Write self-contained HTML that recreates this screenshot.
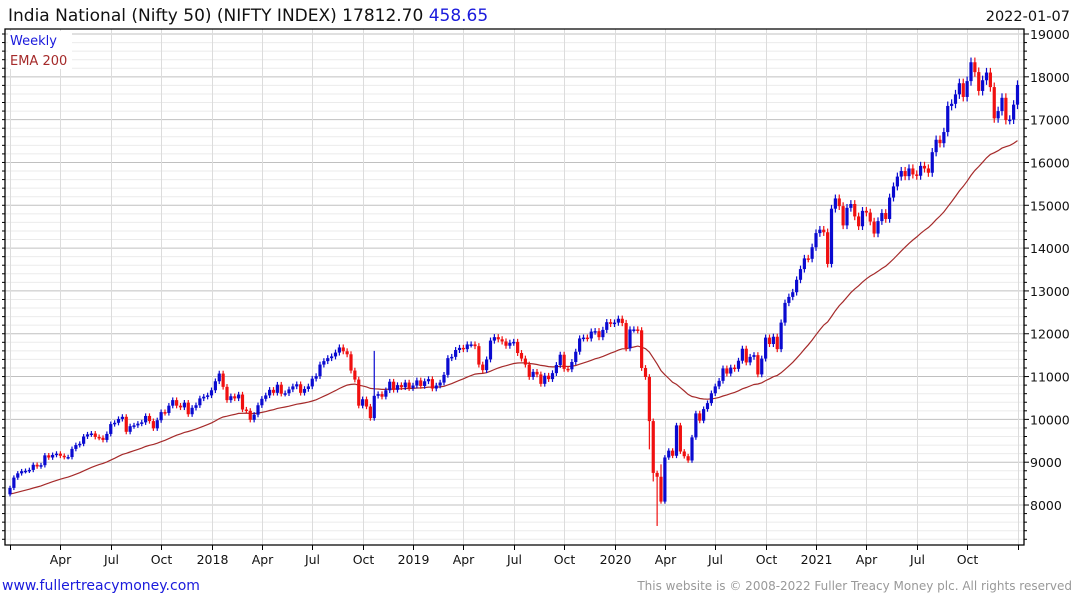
<!DOCTYPE html>
<html><head><meta charset="utf-8"><style>
body{margin:0;background:#fff;}
svg{display:block;font-family:"DejaVu Sans","Liberation Sans",sans-serif;}
</style></head><body>
<svg id="chart" width="1075" height="600" viewBox="0 0 1075 600">
<g id="grid"></g>
<g id="ema"></g>
<g id="candles"></g>
<g id="axes"></g>
<text x="8" y="21" font-size="17" fill="#111">India National (Nifty 50) (NIFTY INDEX) 17812.70 <tspan fill="#1a1adc">458.65</tspan></text>
<text x="1070" y="21" font-size="14.5" fill="#111" text-anchor="end">2022-01-07</text>
<rect x="8" y="31" width="64" height="38" fill="#fff"/>
<text x="10" y="45" font-size="13" fill="#1a1adc">Weekly</text>
<text x="10" y="65" font-size="13" fill="#a52a2a">EMA 200</text>
<text x="2" y="590" font-size="14" fill="#1a1adc">www.fullertreacymoney.com</text>
<text x="1072" y="590" font-size="12" fill="#999" text-anchor="end">This website is © 2008-2022 Fuller Treacy Money plc. All rights reserved</text>
</svg>
<script>
const closes = [
8400,8640,8740,8790,8800,8820,8940,8900,8930,9160,9110,9170,9200,9150,9120,9120,9310,9400,9430,9600,9650,9670,9590,9570,9520,9660,9890,9920,10010,10060,9710,9840,9860,9900,9930,10080,9960,9790,9980,10170,10150,10320,10450,10320,10280,10390,10120,10270,10330,10490,10530,
10560,10680,10890,11070,10760,10450,10540,10490,10580,10230,10200,9990,10110,10330,10480,10560,10690,10620,10810,10600,10610,10700,10770,10820,10620,10710,10770,10950,11010,11280,11360,11430,11470,11560,11680,11590,11520,11140,10930,10320,10470,10300,10030,10550,10590,10530,10680,10880,10690,10800,10750,10860,
10730,10790,10910,10780,10890,10940,10720,10790,10860,11040,11430,11460,11620,11670,11640,11750,11750,11710,11280,11150,11400,11840,11920,11870,11820,11720,11790,11810,11550,11420,11280,10990,11110,11050,10830,11020,10940,11080,11270,11510,11180,11170,11340,11580,11890,11910,11890,12050,12060,11920,12090,12270,
12230,12260,12350,12250,11660,12100,12100,12080,11200,10990,9960,8750,8660,8080,9110,9270,9150,9860,9250,9140,9040,9580,10140,9970,10240,10380,10610,10770,10900,11190,11070,11210,11180,11370,11650,11330,11460,11500,11050,11420,11910,11760,11930,11640,12260,12720,12860,12970,13260,13510,13760,13750,14020,
14350,14430,14370,13630,14920,15160,14980,14530,14940,15030,14740,14510,14870,14830,14620,14340,14630,14820,14680,15180,15440,15670,15800,15680,15860,15720,15690,15920,15860,15760,16240,16530,16450,16710,17320,17370,17590,17850,17530,17900,18340,18110,17670,17920,18100,17760,17030,17200,17510,16990,17000,17350,17810
];
const firstOpen = 8250;
const emaSeed = 8250;
const emaPeriod = 40;
const lowOverrides = [[167, 7511],[166,8550],[165,9300]];
const highOverrides = [[94, 11600],[168, 8950]];
const yTicks = [8000,9000,10000,11000,12000,13000,14000,15000,16000,17000,18000,19000];
const xLabels = ["Apr","Jul","Oct","2018","Apr","Jul","Oct","2019","Apr","Jul","Oct","2020","Apr","Jul","Oct","2021","Apr","Jul","Oct"];

const NS="http://www.w3.org/2000/svg";
const L=5,R=1024,T=29,B=545;
function y(v){return 34+(19000-v)*0.04282;}
function x(i){return 10+i*3.875;}
function mk(tag,attrs,parent){const e=document.createElementNS(NS,tag);for(const k in attrs)e.setAttribute(k,attrs[k]);parent.appendChild(e);return e;}
const grid=document.getElementById('grid'),axes=document.getElementById('axes'),cg=document.getElementById('candles'),eg=document.getElementById('ema');

for(let v=7200;v<=19200;v+=200){
  const yy=y(v); if(yy<T||yy>B) continue;
  const major=v%1000===0;
  const ln=mk('line',{x1:L,x2:R,y1:yy,y2:yy,stroke:major?'#c0c0c0':'#ebebeb','stroke-width':1},grid);
  
  
  const tk=mk('line',{x1:R,x2:R+(major?5:3),y1:yy,y2:yy,stroke:'#000'},axes);
  
  
  const tl=mk('line',{x1:L,x2:L-3,y1:yy,y2:yy,stroke:'#000'},axes);
  
  
}
yTicks.forEach(v=>{
  const t=mk('text',{x:R+6,y:y(v)+5,'font-size':12.5,fill:'#111'},axes);
  t.textContent=v;
  
  
});
const qWeeks=[0];
for(let k=1;k<=20;k++) qWeeks.push(k*52.0/4);
qWeeks.forEach((w,k)=>{
  const xx=Math.round(x(w))+0.5;
  const vl=mk('line',{x1:xx,x2:xx,y1:T,y2:B,stroke:'#dcdcdc'},grid);
  
  
  const tk=mk('line',{x1:xx,x2:xx,y1:B,y2:B+5,stroke:'#000'},axes);
  
  
  if(k>=1&&k<=xLabels.length){
    const t=mk('text',{x:xx,y:B+19,'font-size':12.5,fill:'#111','text-anchor':'middle'},axes);
    t.textContent=xLabels[k-1];
    
    
  }
});
const fr=mk('path',{d:`M${L},${T}H${R}V${B}H${L}Z`,fill:'none',stroke:'#000','stroke-width':1.3},axes);



let e=emaSeed;const a=2/(emaPeriod+1);let pts=[];
closes.forEach((c,i)=>{e=e+a*(c-e);pts.push(x(i).toFixed(1)+','+y(e).toFixed(1));});
const pl=mk('polyline',{points:pts.join(' '),fill:'none',stroke:'#a52a2a','stroke-width':1.2},eg);



const lo={},hi={};lowOverrides.forEach(p=>lo[p[0]]=p[1]);highOverrides.forEach(p=>hi[p[0]]=p[1]);
closes.forEach((c,i)=>{
  const o=i===0?firstOpen:closes[i-1];
  const up=c>=o,col=up?'#0a0ad0':'#f01010';
  const top=Math.max(o,c),bot=Math.min(o,c);
  const h=hi[i]!==undefined?hi[i]:top+top*0.006;
  const l=lo[i]!==undefined?lo[i]:bot-bot*0.006;
  const xx=x(i);
  const w=mk('line',{x1:xx,x2:xx,y1:y(h),y2:y(l),stroke:col,'stroke-width':1.2},cg);
  
  
  const bh=Math.max(1.5,y(bot)-y(top));
  const r=mk('rect',{x:xx-1.6,y:y(top),width:3.2,height:bh,fill:col},cg);
  
  
});
</script>
</body></html>
